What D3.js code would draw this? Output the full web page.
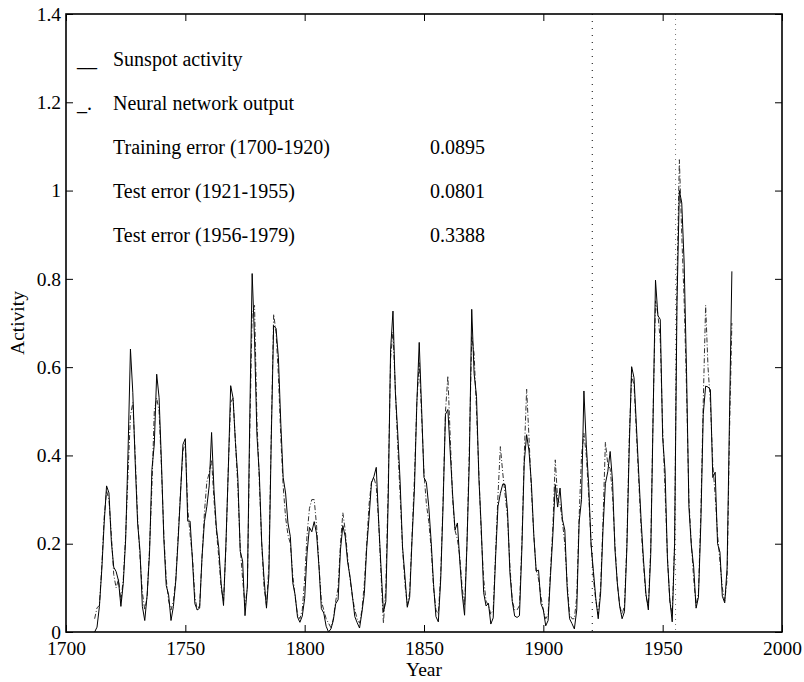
<!DOCTYPE html>
<html>
<head>
<meta charset="utf-8">
<script src="https://cdn.jsdelivr.net/npm/d3@7"></script>
<style>
  html, body { margin: 0; padding: 0; background: #fff; }
  svg { display: block; }
  text { font-family: "Liberation Serif", "Times New Roman", serif; fill: #000; }
</style>
</head>
<body>
<svg id="chart" width="804" height="682"></svg>
<script>
// ---- data ----
const startYear = 1712;
const sunspot = [
  0.000,0.011,0.058,0.142,0.247,0.331,0.315,0.205,0.147,0.137, // 1712-1721
  0.116,0.058,0.110,0.210,0.410,0.641,0.542,0.384,0.247,0.184, // 1722-1731
  0.058,0.026,0.084,0.179,0.368,0.426,0.584,0.531,0.384,0.210, // 1732-1741
  0.105,0.084,0.026,0.058,0.116,0.210,0.315,0.425,0.438,0.251, // 1742-1751
  0.251,0.161,0.064,0.050,0.054,0.170,0.250,0.284,0.331,0.452, // 1752-1761
  0.322,0.237,0.191,0.110,0.060,0.199,0.367,0.558,0.530,0.429, // 1762-1771
  0.350,0.183,0.161,0.037,0.104,0.486,0.812,0.662,0.446,0.358, // 1772-1781
  0.202,0.120,0.054,0.127,0.436,0.694,0.688,0.621,0.473,0.350, // 1782-1791
  0.315,0.247,0.216,0.112,0.084,0.034,0.022,0.036,0.076,0.179, // 1792-1801
  0.237,0.227,0.250,0.222,0.148,0.053,0.043,0.013,0.000,0.007, // 1802-1811
  0.026,0.064,0.073,0.186,0.241,0.216,0.158,0.126,0.082,0.035, // 1812-1821
  0.021,0.009,0.045,0.087,0.191,0.261,0.338,0.352,0.373,0.251, // 1822-1831
  0.145,0.045,0.069,0.299,0.639,0.727,0.543,0.451,0.340,0.193, // 1832-1841
  0.127,0.056,0.079,0.211,0.323,0.518,0.656,0.506,0.350,0.339, // 1842-1851
  0.284,0.205,0.108,0.035,0.023,0.119,0.288,0.493,0.504,0.406, // 1852-1861
  0.311,0.231,0.247,0.160,0.086,0.038,0.198,0.389,0.731,0.585, // 1862-1871
  0.534,0.348,0.235,0.089,0.059,0.065,0.018,0.032,0.170,0.285, // 1872-1881
  0.314,0.335,0.334,0.274,0.134,0.069,0.036,0.033,0.037,0.187, // 1882-1891
  0.384,0.447,0.410,0.336,0.220,0.138,0.140,0.064,0.050,0.014, // 1892-1901
  0.026,0.128,0.221,0.334,0.283,0.326,0.255,0.231,0.098,0.030, // 1902-1911
  0.019,0.007,0.050,0.249,0.300,0.546,0.424,0.334,0.198,0.137, // 1912-1921
  0.075,0.030,0.088,0.233,0.336,0.363,0.409,0.341,0.188,0.111, // 1922-1931
  0.058,0.030,0.046,0.190,0.419,0.601,0.576,0.467,0.356,0.250, // 1932-1941
  0.161,0.086,0.050,0.175,0.487,0.797,0.717,0.708,0.441,0.365, // 1942-1951
  0.166,0.073,0.023,0.200,0.745,1.000,0.972,0.836,0.590,0.283, // 1952-1961
  0.197,0.147,0.054,0.079,0.247,0.493,0.557,0.555,0.549,0.350, // 1962-1971
  0.362,0.200,0.181,0.081,0.066,0.145,0.486,0.817             // 1972-1979
];
const network = [
  0.030,0.055,0.060,0.150,0.260,0.320,0.300,0.220,0.130,0.100, // 1712-1721
  0.120,0.070,0.120,0.220,0.360,0.490,0.520,0.400,0.260,0.170, // 1722-1731
  0.090,0.050,0.080,0.190,0.330,0.500,0.530,0.500,0.370,0.220, // 1732-1741
  0.120,0.070,0.050,0.070,0.120,0.220,0.320,0.410,0.430,0.280, // 1742-1751
  0.220,0.170,0.080,0.050,0.060,0.170,0.270,0.340,0.360,0.390, // 1752-1761
  0.300,0.230,0.170,0.100,0.070,0.190,0.370,0.520,0.530,0.430, // 1762-1771
  0.330,0.190,0.120,0.060,0.100,0.450,0.720,0.740,0.480,0.340, // 1772-1781
  0.200,0.100,0.060,0.150,0.450,0.720,0.680,0.580,0.440,0.330, // 1782-1791
  0.260,0.220,0.200,0.130,0.080,0.040,0.030,0.050,0.120,0.220, // 1792-1801
  0.280,0.300,0.300,0.240,0.150,0.070,0.050,0.030,0.020,0.010, // 1802-1811
  0.030,0.070,0.100,0.200,0.270,0.230,0.170,0.120,0.080,0.050, // 1812-1821
  0.030,0.020,0.050,0.110,0.200,0.290,0.340,0.350,0.330,0.250, // 1822-1831
  0.130,0.020,0.100,0.330,0.620,0.680,0.550,0.420,0.310,0.190, // 1832-1841
  0.110,0.060,0.090,0.220,0.350,0.520,0.610,0.490,0.360,0.290, // 1842-1851
  0.250,0.190,0.100,0.050,0.040,0.130,0.300,0.500,0.580,0.440, // 1852-1861
  0.300,0.230,0.210,0.170,0.100,0.060,0.200,0.420,0.670,0.630, // 1862-1871
  0.500,0.360,0.220,0.120,0.070,0.060,0.040,0.050,0.180,0.310, // 1872-1881
  0.420,0.360,0.310,0.260,0.150,0.070,0.050,0.050,0.060,0.200, // 1882-1891
  0.400,0.550,0.440,0.320,0.220,0.140,0.120,0.080,0.050,0.030, // 1892-1901
  0.040,0.140,0.240,0.390,0.300,0.290,0.250,0.200,0.110,0.040, // 1902-1911
  0.030,0.030,0.080,0.260,0.400,0.450,0.400,0.310,0.200,0.120, // 1912-1921
  0.070,0.040,0.100,0.250,0.430,0.380,0.370,0.310,0.200,0.110, // 1922-1931
  0.060,0.040,0.060,0.200,0.440,0.580,0.560,0.450,0.340,0.230, // 1932-1941
  0.150,0.080,0.060,0.190,0.500,0.750,0.720,0.660,0.460,0.320, // 1942-1951
  0.170,0.070,0.040,0.200,0.800,1.070,0.900,0.750,0.550,0.300, // 1952-1961
  0.200,0.120,0.060,0.090,0.270,0.520,0.740,0.600,0.520,0.380, // 1962-1971
  0.310,0.220,0.160,0.100,0.070,0.120,0.450,0.700             // 1972-1979
];
const splitYears = [1920.5, 1955.4];
const xTicks = [1700, 1750, 1800, 1850, 1900, 1950, 2000];
const yTicks = [0, 0.2, 0.4, 0.6, 0.8, 1, 1.2, 1.4];
const legendSeries = [
  { mark: "__", label: "Sunspot activity" },
  { mark: "_.", label: "Neural network output" }
];
const errorLabels = ["Training error (1700-1920)", "Test error (1921-1955)", "Test error (1956-1979)"];
const errorValues = ["0.0895", "0.0801", "0.3388"];

// ---- layout ----
const M = { left: 66, right: 782, top: 14, bottom: 632 };
const svg = d3.select("#chart");
const x = d3.scaleLinear().domain([1700, 2000]).range([M.left, M.right]);
const y = d3.scaleLinear().domain([0, 1.4]).range([M.bottom, M.top]);

const sunData = sunspot.map((v, i) => [startYear + i, v]);
const netData = network.map((v, i) => [startYear + i, v]);

svg.append("defs").append("clipPath").attr("id", "clip")
  .append("rect").attr("x", M.left).attr("y", M.top)
  .attr("width", M.right - M.left).attr("height", M.bottom - M.top);

const line = d3.line().x(d => x(d[0])).y(d => y(d[1]));
const g = svg.append("g").attr("clip-path", "url(#clip)");

// split markers
g.selectAll("line.split").data(splitYears).enter().append("line")
  .attr("x1", d => x(d)).attr("x2", d => x(d))
  .attr("y1", M.top).attr("y2", M.bottom)
  .attr("stroke", (d, i) => i === 0 ? "#000" : "#777")
  .attr("stroke-width", 1)
  .attr("stroke-dasharray", (d, i) => i === 0 ? "1,6" : "1,4");

g.append("path").datum(netData).attr("d", line)
  .attr("fill", "none").attr("stroke", "#333").attr("stroke-width", 1)
  .attr("stroke-dasharray", "5,2,1,2");
g.append("path").datum(sunData).attr("d", line)
  .attr("fill", "none").attr("stroke", "#000").attr("stroke-width", 1);

// axes (MATLAB style box with inward ticks)
const tickLen = 7;
const axB = svg.append("g").attr("transform", `translate(0,${M.bottom})`)
  .call(d3.axisBottom(x).tickValues(xTicks).tickFormat(d3.format("d")).tickSizeInner(-tickLen).tickSizeOuter(0).tickPadding(9));
const axT = svg.append("g").attr("transform", `translate(0,${M.top})`)
  .call(d3.axisTop(x).tickValues(xTicks).tickFormat("").tickSizeInner(-tickLen).tickSizeOuter(0));
const axL = svg.append("g").attr("transform", `translate(${M.left},0)`)
  .call(d3.axisLeft(y).tickValues(yTicks).tickFormat(d => d3.format("~g")(d)).tickSizeInner(-tickLen).tickSizeOuter(0).tickPadding(5));
const axR = svg.append("g").attr("transform", `translate(${M.right},0)`)
  .call(d3.axisRight(y).tickValues(yTicks).tickFormat("").tickSizeInner(-tickLen).tickSizeOuter(0));

[axB, axT, axL, axR].forEach(a => {
  a.select(".domain").remove();
  a.selectAll(".tick line").attr("stroke", "#000").attr("stroke-width", 1);
  a.selectAll("text").style("font-size", "19.5px").attr("fill", "#000");
});
axB.selectAll("text").attr("dy", "0.71em");

svg.append("rect").attr("x", M.left).attr("y", M.top)
  .attr("width", M.right - M.left).attr("height", M.bottom - M.top)
  .attr("fill", "none").attr("stroke", "#000").attr("stroke-width", 1.6);

// axis titles
svg.append("text").attr("x", (M.left + M.right) / 2).attr("y", 676)
  .attr("text-anchor", "middle").style("font-size", "19.5px").text("Year");
svg.append("text").attr("transform", `translate(24,${(M.top + M.bottom) / 2}) rotate(-90)`)
  .attr("text-anchor", "middle").style("font-size", "19.5px").text("Activity");

// legend / annotations
const legX = 113, markX = 77, baseY = 66, step = 44;
legendSeries.forEach((d, i) => {
  svg.append("text").attr("x", markX).attr("y", baseY + i * step).style("font-size", "20px").text(d.mark);
  svg.append("text").attr("x", legX).attr("y", baseY + i * step).style("font-size", "20px").text(d.label);
});
errorLabels.forEach((d, i) => {
  const yy = baseY + (i + 2) * step;
  svg.append("text").attr("x", legX).attr("y", yy).style("font-size", "20px").text(d);
  svg.append("text").attr("x", 430).attr("y", yy).style("font-size", "20px").text(errorValues[i]);
});
</script>
</body>
</html>
